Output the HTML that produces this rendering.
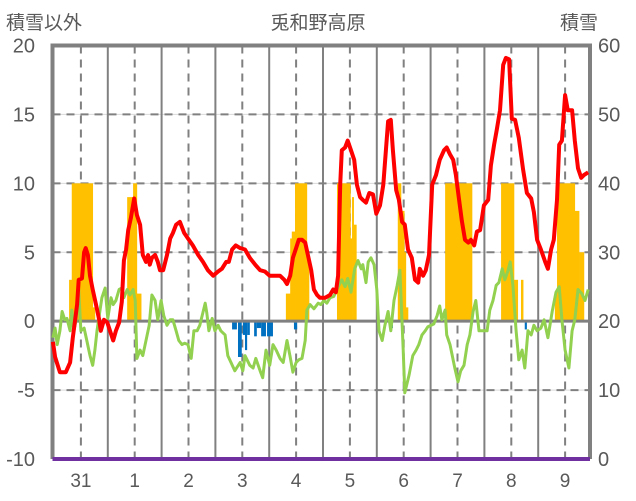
<!DOCTYPE html>
<html><head><meta charset="utf-8">
<style>
html,body{margin:0;padding:0;background:#fff;}
svg{display:block;font-family:"Liberation Sans","Noto Sans CJK JP",sans-serif;}
</style></head>
<body>
<svg id="chart" width="636" height="501" viewBox="0 0 636 501">
<text x="6" y="29" font-size="19" fill="#595959">積雪以外</text>
<text x="318" y="29" font-size="19" fill="#595959" text-anchor="middle">兎和野高原</text>
<text x="560" y="29" font-size="19" fill="#595959">積雪</text>
<g id="grid"></g>
<g id="snowbars"></g>
<g id="negbars"></g>
<g id="frame"></g>
<g id="lines"></g>
<g id="labels"></g>
</svg>
<script>
const leftTicks = [20, 15, 10, 5, 0, -5, -10];
const rightTicks = [60, 50, 40, 30, 20, 10, 0];
const dayLabels = ["31", "1", "2", "3", "4", "5", "6", "7", "8", "9"];

const redT = [-0.02,0.02,0.11,0.22,0.30,0.35,0.43,0.46,0.52,0.56,0.59,0.63,0.67,0.72,0.78,0.84,0.87,0.93,0.99,1.04,1.10,1.15,1.21,1.26,1.30,1.34,1.38,1.43,1.49,1.54,1.60,1.65,1.71,1.75,1.78,1.82,1.88,1.93,1.97,2.03,2.10,2.16,2.21,2.27,2.34,2.42,2.49,2.58,2.68,2.77,2.86,2.96,3.05,3.12,3.20,3.25,3.31,3.38,3.46,3.55,3.64,3.74,3.83,3.92,4.01,4.11,4.20,4.28,4.33,4.39,4.44,4.50,4.55,4.61,4.67,4.72,4.78,4.83,4.89,4.94,5.04,5.13,5.19,5.24,5.28,5.32,5.35,5.41,5.46,5.52,5.58,5.63,5.69,5.74,5.80,5.86,5.93,5.99,6.06,6.12,6.17,6.21,6.26,6.30,6.36,6.41,6.47,6.52,6.58,6.65,6.71,6.77,6.80,6.86,6.91,6.97,7.03,7.10,7.17,7.25,7.30,7.36,7.42,7.47,7.53,7.58,7.64,7.70,7.75,7.81,7.86,7.92,7.99,8.07,8.12,8.18,8.23,8.29,8.35,8.40,8.46,8.51,8.57,8.64,8.72,8.79,8.87,8.92,8.98,9.05,9.13,9.18,9.24,9.29,9.35,9.39,9.44,9.50,9.55,9.63,9.68,9.74,9.80,9.85,9.93];
const redV = [-1.5,-2.6,-3.7,-3.7,-3.0,-1.2,1.2,3.0,3.1,5.0,5.3,4.8,3.3,2.3,1.2,0.1,-0.7,0.1,-0.1,-0.7,-1.4,-0.7,-0.1,1.4,4.4,5.2,6.6,7.5,8.9,7.7,7.0,4.8,4.3,4.8,4.1,4.6,4.8,4.3,3.7,3.7,4.8,6.0,6.4,7.0,7.2,6.4,6.0,5.5,4.8,4.3,3.7,3.3,3.6,3.8,4.3,4.3,5.2,5.5,5.3,5.2,4.6,4.1,3.7,3.6,3.3,3.3,3.3,3.0,2.7,3.3,4.6,5.3,5.9,5.9,5.7,4.8,3.7,2.3,1.9,1.7,1.7,1.9,2.3,2.1,3.3,9.9,12.4,12.6,13.1,12.4,11.7,9.9,9.0,8.8,8.6,9.3,9.2,7.8,8.4,9.9,12.4,14.5,14.6,12.4,9.5,8.8,7.2,7.0,5.2,4.6,3.0,2.8,3.8,3.3,3.7,4.8,9.9,10.6,11.7,12.4,12.6,12.1,11.7,10.6,8.8,7.3,5.9,5.7,5.9,5.5,6.5,6.6,8.4,8.8,11.3,12.8,13.9,15.3,18.6,19.1,19.0,14.7,14.6,13.3,11.0,9.3,8.9,7.9,5.9,5.2,4.3,3.8,5.2,5.9,8.8,12.8,13.1,16.4,15.3,15.3,13.1,11.1,10.4,10.6,10.8];

const greenT = [-0.02,0.02,0.06,0.11,0.15,0.20,0.24,0.30,0.33,0.37,0.41,0.46,0.50,0.56,0.61,0.67,0.72,0.76,0.80,0.84,0.89,0.95,1.00,1.06,1.10,1.15,1.21,1.26,1.30,1.36,1.41,1.47,1.51,1.54,1.60,1.65,1.71,1.77,1.82,1.88,1.93,1.99,2.04,2.10,2.16,2.21,2.27,2.32,2.38,2.43,2.49,2.55,2.60,2.66,2.71,2.81,2.84,2.88,2.94,2.99,3.05,3.10,3.18,3.23,3.29,3.36,3.46,3.51,3.55,3.64,3.70,3.75,3.83,3.88,3.94,4.01,4.07,4.13,4.20,4.26,4.33,4.39,4.44,4.50,4.55,4.61,4.67,4.70,4.76,4.83,4.91,4.96,5.02,5.07,5.13,5.20,5.26,5.32,5.35,5.41,5.46,5.52,5.59,5.65,5.71,5.74,5.80,5.84,5.89,5.95,6.00,6.04,6.10,6.15,6.21,6.26,6.32,6.38,6.43,6.49,6.52,6.60,6.67,6.73,6.78,6.84,6.90,6.95,7.01,7.06,7.12,7.17,7.21,7.27,7.30,7.36,7.45,7.51,7.56,7.62,7.68,7.73,7.79,7.84,7.90,7.97,8.05,8.10,8.16,8.22,8.27,8.33,8.38,8.44,8.48,8.53,8.59,8.64,8.70,8.75,8.81,8.87,8.92,8.98,9.05,9.11,9.18,9.26,9.33,9.39,9.44,9.50,9.57,9.63,9.68,9.74,9.81,9.87,9.93];
const greenV = [-1.2,-0.5,-1.7,-0.7,0.7,0.1,0.2,-0.7,0.8,-0.7,0.1,2.3,-0.7,-0.5,-1.4,-2.5,-3.2,-2.1,-0.7,0.4,1.7,2.4,0.2,1.7,1.2,1.5,2.3,2.4,1.7,2.3,1.9,2.3,1.5,-2.7,-2.1,-2.5,-1.4,-0.3,1.9,1.5,0.1,1.5,0.4,-0.3,0.1,0.1,-0.7,-1.4,-1.7,-1.6,-1.7,-2.7,-0.7,-0.7,-0.3,1.3,0.6,-0.7,0.2,-0.7,-0.3,-0.7,-1.0,-2.5,-3.0,-3.6,-3.0,-3.6,-2.5,-3.2,-3.4,-2.7,-3.6,-4.1,-2.1,-3.2,-1.7,-2.1,-2.7,-3.0,-1.4,-2.6,-3.7,-3.0,-2.8,-2.7,-1.4,0.8,1.2,0.9,1.3,1.2,1.5,1.3,1.7,1.8,2.3,2.8,3.0,2.5,3.1,2.1,3.8,4.4,3.8,4.1,2.8,4.3,4.6,4.1,2.3,-0.7,-1.4,-0.3,0.7,-0.7,1.5,2.6,3.7,-2.1,-5.2,-3.9,-2.5,-2.1,-1.7,-1.0,-0.7,-0.4,-0.3,-0.2,0.4,1.1,0.1,0.8,-1.0,-1.7,-3.4,-4.4,-3.6,-3.2,-1.7,-1.0,0.7,1.5,-0.7,-0.7,-0.7,0.8,1.5,2.6,2.8,3.8,3.0,3.7,4.3,2.6,-0.7,-2.8,-2.1,-3.4,-0.7,-1.0,-0.3,-0.7,-0.5,0.1,-1.2,0.7,2.1,2.5,0.1,-2.1,-3.4,-0.7,0.1,2.3,2.0,1.5,2.3];

const snowStart = [0.28,0.33,0.72,1.36,1.47,1.54,4.31,4.39,4.42,4.48,4.70,5.26,5.51,5.54,5.57,6.39,6.45,6.51,6.54,7.27,8.31,8.55,8.68,9.31,9.35,9.68,9.76];
const snowEnd   = [0.33,0.72,0.76,1.47,1.54,1.62,4.39,4.42,4.48,4.70,4.74,5.51,5.54,5.57,5.62,6.45,6.51,6.54,6.58,7.77,8.55,8.62,8.72,9.35,9.68,9.76,9.85];
const snowVal   = [26,40,22,38,40,24,24,32,33,40,30,40,32,38,34,40,36,30,22,40,40,26,26,24,40,36,30];

const negStart = [3.31,3.42,3.51,3.55,3.59,3.72,3.77,3.85,3.96,4.46,6.28,8.75];
const negEnd   = [3.40,3.49,3.55,3.59,3.64,3.77,3.85,3.94,4.07,4.52,6.30,8.79];
const negVal   = [-0.6,-2.6,-1.0,-2.1,-1.0,-1.1,-0.5,-1.1,-1.1,-0.6,-0.5,-0.6];

const X0 = 54, DAY = 53.8, L = 52.5, R = 590, TOP = 45.5, BOT = 459;
function x(t){ return X0 + t * DAY; }
function yL(v){ return BOT - (v + 10) * (BOT - TOP) / 30; }
function yR(v){ return BOT - v * (BOT - TOP) / 60; }
const NS = "http://www.w3.org/2000/svg";
function mk(tag, attrs, parent){
  const e = document.createElementNS(NS, tag);
  for (const k in attrs) e.setAttribute(k, attrs[k]);
  parent.appendChild(e);
  return e;
}
const grid = document.getElementById('grid');
const frame = document.getElementById('frame');
const labels = document.getElementById('labels');
const lines = document.getElementById('lines');

leftTicks.forEach(v => {
  if (v === 20 || v === -10 || v === 0) return;
  let g = mk('line', {x1:L, x2:R, y1:yL(v), y2:yL(v), stroke:'#d9d9d9', 'stroke-width':1}, grid);
  
  
  let d = mk('line', {x1:L, x2:R, y1:yL(v), y2:yL(v), stroke:'#808080', 'stroke-width':2, 'stroke-dasharray':'8,6'}, grid);
  
  
});
dayLabels.forEach((lab, i) => {
  const dx = x(i + 0.5);
  let d = mk('line', {x1:dx, x2:dx, y1:TOP, y2:BOT, stroke:'#808080', 'stroke-width':2, 'stroke-dasharray':'8,6'}, grid);
  
  
  if (i > 0) {
    const sx = x(i);
    let s = mk('line', {x1:sx, x2:sx, y1:TOP, y2:BOT, stroke:'#808080', 'stroke-width':2}, grid);
    
    
  }
  let t = mk('text', {x:dx, y:487, 'font-size':19, fill:'#595959', 'text-anchor':'middle'}, labels);
  t.textContent = lab;
  
  
});

const sb = document.getElementById('snowbars');
snowVal.forEach((v, i) => {
  const x1 = x(snowStart[i]), x2 = x(snowEnd[i]);
  const r = mk('rect', {x:x1, y:yR(v), width:Math.max(1, x2 - x1 + 0.3), height:yR(20) - yR(v), fill:'#ffc000'}, sb);
  
  
});
const nb = document.getElementById('negbars');
negVal.forEach((v, i) => {
  const x1 = x(negStart[i]), x2 = x(negEnd[i]);
  const r = mk('rect', {x:x1, y:yL(0), width:Math.max(1, x2 - x1), height:yL(v) - yL(0), fill:'#0070c0'}, nb);
  
  
});

let z = mk('line', {x1:L, x2:R, y1:yL(0), y2:yL(0), stroke:'#808080', 'stroke-width':3}, frame);


let fr = mk('path', {d:`M${L},${BOT} L${L},${TOP} L${R},${TOP} L${R},${BOT}`, fill:'none', stroke:'#808080', 'stroke-width':4}, frame);



function path(ts, vs){ return ts.map((t, i) => (i ? 'L' : 'M') + x(t).toFixed(1) + ',' + yL(vs[i]).toFixed(1)).join(' '); }
let gl = mk('path', {d:path(greenT, greenV), fill:'none', stroke:'#92d050', 'stroke-width':3, 'stroke-linejoin':'round'}, lines);


let rl = mk('path', {d:path(redT, redV), fill:'none', stroke:'#ff0000', 'stroke-width':4, 'stroke-linejoin':'round'}, lines);


let pl = mk('line', {x1:L, x2:R, y1:yL(-10), y2:yL(-10), stroke:'#7030a0', 'stroke-width':4}, lines);



leftTicks.forEach(v => {
  let t = mk('text', {x:35, y:yL(v) + 7, 'font-size':20, fill:'#595959', 'text-anchor':'end'}, labels);
  t.textContent = String(v);
  
  
});
rightTicks.forEach(v => {
  let t = mk('text', {x:598, y:yR(v) + 7, 'font-size':20, fill:'#595959'}, labels);
  t.textContent = String(v);
  
  
});
</script>
</body></html>
